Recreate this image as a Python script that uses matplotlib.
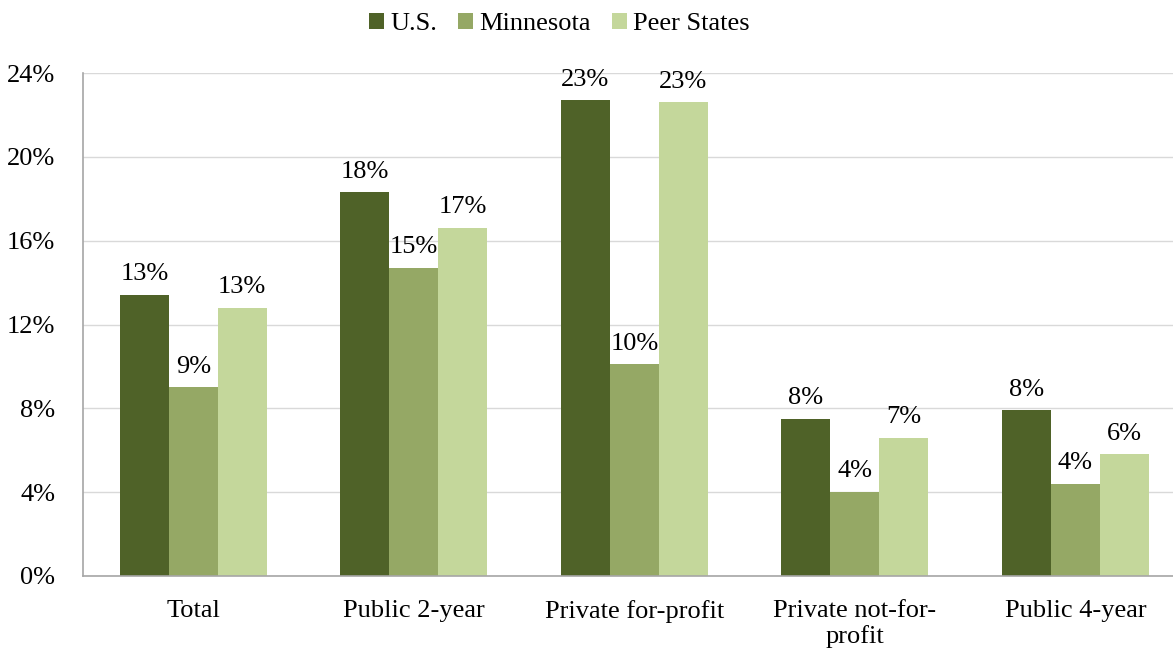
import matplotlib.pyplot as plt
import numpy as np

categories = ["Total", "Public 2-year", "Private for-profit",
              "Private not-for-\nprofit", "Public 4-year"]
us = [13.4, 18.3, 22.7, 7.5, 7.9]
minnesota = [9.0, 14.7, 10.1, 4.0, 4.4]
peer_states = [12.8, 16.6, 22.6, 6.6, 5.8]
series_names = ["U.S.", "Minnesota", "Peer States"]
colors = ["#4F6228", "#95A865", "#C4D79B"]

plt.rcParams["font.family"] = ["Liberation Serif", "DejaVu Serif"]
fs = 19

fig = plt.figure(figsize=(11.73, 6.51), dpi=100)
ax = fig.add_axes([83 / 1173, 75 / 651, 1102.75 / 1173, 503 / 651])

x = np.arange(len(categories))
w = 0.222
for i, (vals, name, c) in enumerate(zip([us, minnesota, peer_states], series_names, colors)):
    pos = x + (i - 1) * w
    ax.bar(pos, vals, width=w, color=c, label=name, zorder=2)
    for px, v in zip(pos, vals):
        ax.annotate(f"{v:.0f}%", (px, v), xytext=(0, 7), textcoords="offset points",
                    ha="center", va="bottom", fontsize=fs)

ax.set_xlim(-0.5, 4.5)
ax.set_ylim(0, 24)
ax.set_yticks(range(0, 25, 4))
ax.set_yticklabels([f"{t}%" for t in range(0, 25, 4)])
ax.set_xticks(x)
ax.set_xticklabels(categories, linespacing=1.2)
ax.tick_params(axis="both", length=0, labelsize=fs)
ax.tick_params(axis="x", pad=17)
ax.tick_params(axis="y", pad=20)
ax.grid(axis="y", color="#D9D9D9", linewidth=1, zorder=0)
for s in ["top", "right"]:
    ax.spines[s].set_visible(False)
for s in ["left", "bottom"]:
    ax.spines[s].set_color("#A6A6A6")
    ax.spines[s].set_linewidth(1.2)

fig.legend(loc="center", bbox_to_anchor=(0.477, 0.963), ncol=3, frameon=False,
           fontsize=fs, handlelength=0.55, handleheight=0.55, handletextpad=0.25,
           columnspacing=0.8)

fig.savefig("out.png", dpi=100)
